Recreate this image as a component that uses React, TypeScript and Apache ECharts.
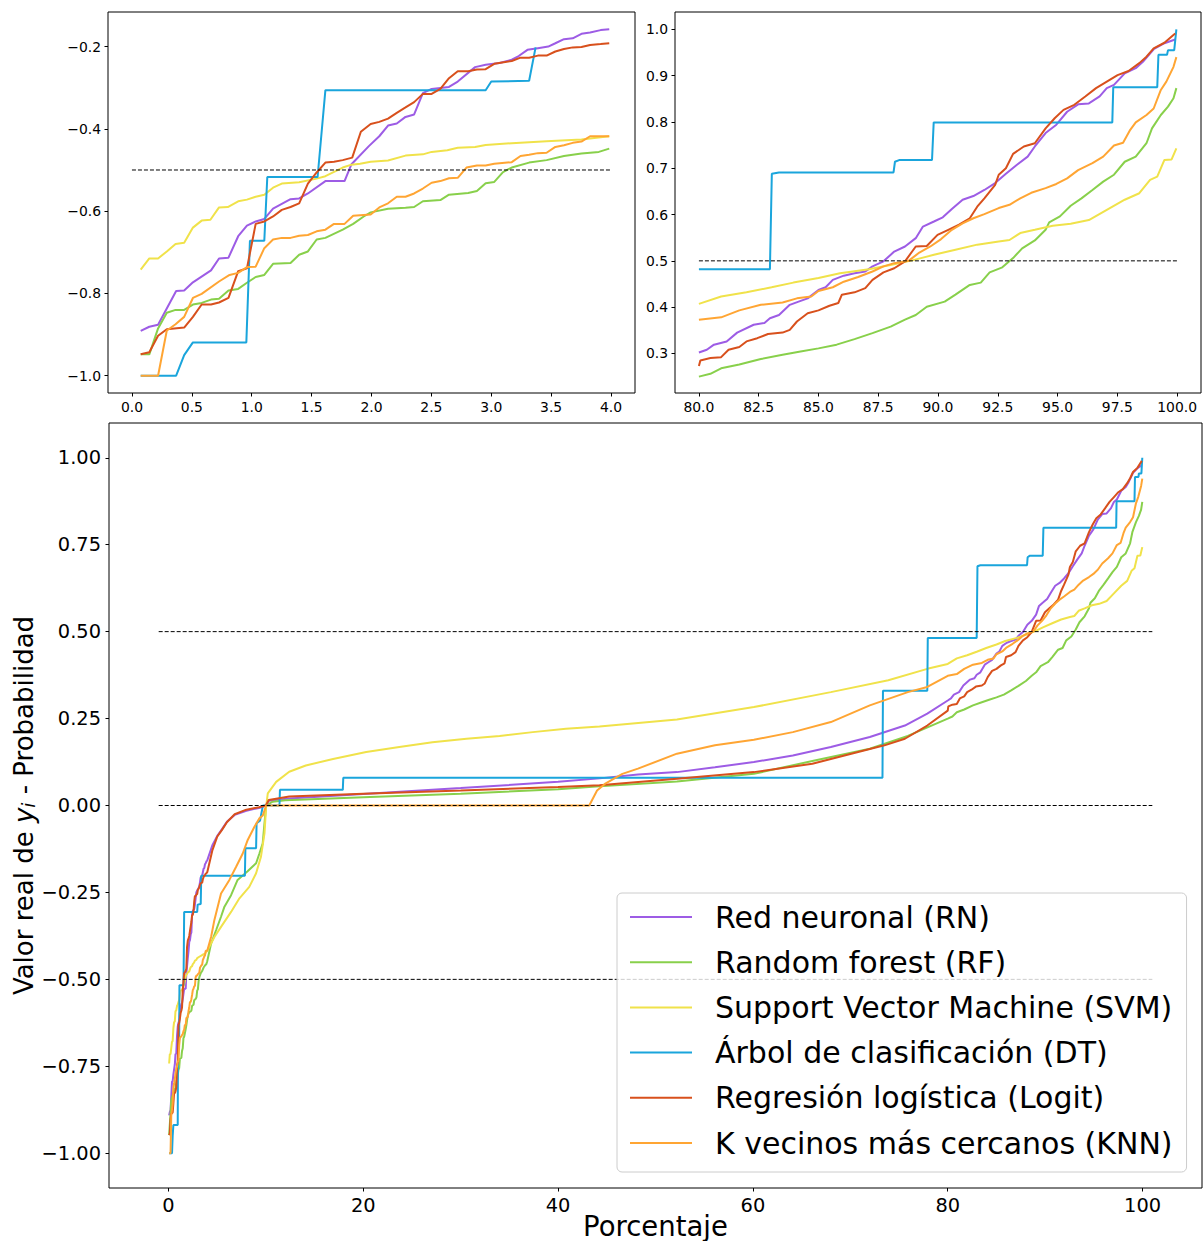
import React, { useEffect, useRef } from 'react';
import * as echarts from 'echarts';

const FONT = 'DejaVu Sans';

const MODEL_NAMES = [
  'Red neuronal (RN)',
  'Random forest (RF)',
  'Support Vector Machine (SVM)',
  'Árbol de clasificación (DT)',
  'Regresión logística (Logit)',
  'K vecinos más cercanos (KNN)',
];
const MODEL_COLORS = ['#9d5ce5', '#88d04b', '#f0e24a', '#1aa5dc', '#d8501c', '#ffa533'];

// [percentile, y_i - probability]
const rnData = [
  [0.073, -0.891], [0.145, -0.881], [0.218, -0.876], [0.369, -0.794], [0.436, -0.793], [0.509, -0.773],
  [0.66, -0.744], [0.727, -0.715], [0.806, -0.713], [0.887, -0.661], [0.96, -0.635], [1.033, -0.625],
  [1.105, -0.619], [1.178, -0.594], [1.324, -0.571], [1.396, -0.569], [1.469, -0.557], [1.615, -0.527],
  [1.775, -0.527], [1.833, -0.486], [1.978, -0.442], [2.065, -0.418], [2.138, -0.392], [2.211, -0.387],
  [2.284, -0.371], [2.356, -0.365], [2.429, -0.313], [2.502, -0.303], [2.647, -0.298], [2.72, -0.285],
  [2.865, -0.25], [2.953, -0.244], [3.069, -0.24], [3.171, -0.232], [3.229, -0.223], [3.302, -0.208],
  [3.389, -0.204], [3.476, -0.2], [3.535, -0.192], [3.607, -0.182], [3.68, -0.18], [3.753, -0.169],
  [3.825, -0.166], [3.913, -0.16], [3.985, -0.158],
  [4.5, -0.115], [5.0, -0.088], [5.5, -0.068], [6.0, -0.047], [6.8, -0.027], [8.0, -0.015], [9.3, -0.007],
  [10.0, 0.0], [10.3, 0.014], [12.4, 0.02], [20, 0.033], [30, 0.05], [40, 0.068], [44.25, 0.078],
  [48.2, 0.089], [52.2, 0.096], [56.1, 0.11], [60.1, 0.125], [64.1, 0.144], [68, 0.168], [72, 0.197],
  [75.6, 0.23], [77.9, 0.264],
  [80, 0.302], [80.33, 0.308], [80.63, 0.319], [81.16, 0.326], [81.6, 0.345], [82.29, 0.362], [82.74, 0.366],
  [82.97, 0.376], [83.35, 0.383], [83.8, 0.405], [84.17, 0.412], [84.55, 0.419], [85.0, 0.437], [85.3, 0.443],
  [85.6, 0.459], [86.06, 0.468], [86.51, 0.473], [86.96, 0.477], [87.26, 0.488], [87.72, 0.499], [88.17, 0.52],
  [88.62, 0.531], [89.07, 0.549], [89.37, 0.574], [89.83, 0.585], [90.2, 0.594], [90.58, 0.612], [91.03, 0.632],
  [91.48, 0.64], [91.94, 0.653], [92.39, 0.668], [92.84, 0.688], [93.29, 0.707], [93.75, 0.725], [94.05, 0.747],
  [94.5, 0.776], [94.95, 0.794], [95.4, 0.822], [95.86, 0.838], [96.31, 0.84], [96.76, 0.855], [97.06, 0.873],
  [97.36, 0.88], [97.81, 0.905], [98.27, 0.916], [98.57, 0.93], [99.02, 0.957], [99.47, 0.97], [99.92, 0.978],
];

const rfData = [
  [0.073, -0.948], [0.145, -0.948], [0.218, -0.885], [0.291, -0.847], [0.364, -0.84], [0.436, -0.84],
  [0.509, -0.827], [0.582, -0.823], [0.66, -0.815], [0.727, -0.813], [0.806, -0.793], [0.887, -0.789],
  [0.96, -0.774], [1.033, -0.76], [1.105, -0.755], [1.178, -0.728], [1.324, -0.726], [1.396, -0.706],
  [1.469, -0.698], [1.542, -0.669], [1.615, -0.665], [1.76, -0.645], [1.847, -0.631], [1.935, -0.613],
  [1.993, -0.603], [2.138, -0.594], [2.284, -0.592], [2.356, -0.59], [2.429, -0.576], [2.575, -0.573],
  [2.647, -0.56], [2.807, -0.556], [2.88, -0.551], [2.953, -0.532], [3.025, -0.529], [3.098, -0.505],
  [3.171, -0.494], [3.316, -0.482], [3.462, -0.476], [3.607, -0.466], [3.753, -0.46], [3.898, -0.456],
  [3.985, -0.448],
  [4.38, -0.397], [4.9, -0.358], [5.4, -0.32], [5.75, -0.291], [6.43, -0.258], [7.1, -0.214], [8.1, -0.19],
  [9.0, -0.166], [9.34, -0.138], [9.68, -0.109], [9.86, -0.051], [10.03, 0.0], [10.7, 0.011], [12, 0.015],
  [20, 0.024], [30, 0.034], [40, 0.047], [44.25, 0.055], [52.2, 0.069], [60.1, 0.091], [66.1, 0.128],
  [72, 0.163], [75.9, 0.2],
  [80, 0.25], [80.48, 0.256], [80.93, 0.268], [81.69, 0.276], [82.59, 0.288], [83.5, 0.297], [84.25, 0.304],
  [85.0, 0.311], [85.76, 0.319], [86.51, 0.331], [87.26, 0.344], [88.02, 0.358], [88.62, 0.373], [89.07, 0.383],
  [89.53, 0.401], [90.28, 0.412], [90.73, 0.427], [91.33, 0.448], [91.79, 0.453], [92.16, 0.475], [92.69, 0.486],
  [93.14, 0.506], [93.52, 0.527], [94.05, 0.544], [94.5, 0.567], [94.65, 0.583], [95.1, 0.596], [95.55, 0.619],
  [96.0, 0.635], [96.46, 0.653], [96.91, 0.671], [97.36, 0.686], [97.81, 0.714], [98.27, 0.725], [98.72, 0.754],
  [98.95, 0.786], [99.32, 0.815], [99.62, 0.833], [99.85, 0.851], [99.97, 0.873],
];

const svmData = [
  [0.073, -0.742], [0.145, -0.715], [0.218, -0.715], [0.291, -0.698], [0.364, -0.68], [0.436, -0.677],
  [0.509, -0.64], [0.582, -0.623], [0.655, -0.621], [0.727, -0.591], [0.8, -0.59], [0.887, -0.576],
  [0.96, -0.572], [1.033, -0.565], [1.105, -0.56], [1.178, -0.543], [1.251, -0.533], [1.396, -0.53],
  [1.542, -0.521], [1.615, -0.515], [1.76, -0.494], [1.833, -0.487], [1.905, -0.485], [1.993, -0.48],
  [2.138, -0.477], [2.284, -0.465], [2.429, -0.462], [2.502, -0.456], [2.633, -0.452], [2.72, -0.446],
  [2.865, -0.444], [2.953, -0.439], [3.171, -0.435], [3.462, -0.43], [3.753, -0.426], [3.985, -0.418],
  [4.72, -0.378], [5.4, -0.349], [6.43, -0.306], [7.29, -0.267], [8.3, -0.234], [9.0, -0.195], [9.5, -0.147],
  [9.86, -0.08], [10.03, -0.003], [10.2, 0.035], [11.06, 0.068], [12.4, 0.097], [14.1, 0.115], [16.9, 0.134],
  [20.3, 0.154], [23.7, 0.168], [27.1, 0.182], [30.6, 0.192], [34, 0.2], [37.4, 0.211], [40.8, 0.221],
  [44.25, 0.227], [52.2, 0.247], [60.1, 0.283], [68, 0.326], [73.9, 0.36], [77.9, 0.393],
  [80, 0.407], [80.93, 0.423], [81.99, 0.432], [83.04, 0.443], [83.95, 0.453], [85.0, 0.463], [85.9, 0.473],
  [87.11, 0.482], [88.02, 0.491], [88.92, 0.501], [89.83, 0.513], [90.73, 0.524], [91.64, 0.535], [92.54, 0.542],
  [92.99, 0.545], [93.44, 0.56], [94.05, 0.567], [94.8, 0.576], [95.55, 0.58], [96.31, 0.588], [97.06, 0.61],
  [97.81, 0.632], [98.42, 0.646], [98.87, 0.675], [99.17, 0.682], [99.47, 0.718], [99.77, 0.719], [99.97, 0.743],
];

const dtData = [
  [0.073, -1.0], [0.369, -1.0], [0.436, -0.95], [0.509, -0.919], [0.955, -0.919], [0.985, -0.672],
  [1.105, -0.672], [1.13, -0.517], [1.55, -0.517], [1.615, -0.306], [2.953, -0.306], [3.0, -0.285],
  [3.316, -0.283], [3.37, -0.202], [7.85, -0.202], [7.9, -0.123], [9.0, -0.123], [9.05, -0.051],
  [9.4, -0.044], [9.7, 0.0], [11.4, 0.0], [11.45, 0.045], [17.9, 0.045], [17.95, 0.08], [73.3, 0.08],
  [73.35, 0.33], [77.9, 0.33], [77.95, 0.482], [80, 0.482], [82.97, 0.482], [83.05, 0.688], [83.35, 0.691],
  [88.14, 0.691], [88.2, 0.714], [88.4, 0.718], [89.75, 0.718], [89.82, 0.799], [97.29, 0.799],
  [97.33, 0.875], [99.17, 0.875], [99.22, 0.945], [99.58, 0.945], [99.62, 0.955], [99.88, 0.955], [99.97, 1.0],
];

const logitData = [
  [0.073, -0.948], [0.145, -0.943], [0.218, -0.903], [0.291, -0.887], [0.436, -0.883], [0.509, -0.857],
  [0.582, -0.827], [0.66, -0.827], [0.727, -0.822], [0.806, -0.811], [0.887, -0.746], [0.96, -0.739],
  [1.033, -0.631], [1.105, -0.625], [1.178, -0.613], [1.251, -0.597], [1.324, -0.59], [1.396, -0.581],
  [1.469, -0.533], [1.542, -0.506], [1.615, -0.482], [1.687, -0.48], [1.76, -0.476], [1.839, -0.47],
  [1.911, -0.407], [1.993, -0.388], [2.065, -0.383], [2.138, -0.375], [2.211, -0.361], [2.284, -0.348],
  [2.356, -0.335], [2.429, -0.315], [2.502, -0.315], [2.575, -0.303], [2.647, -0.277], [2.72, -0.26],
  [2.807, -0.26], [2.88, -0.256], [2.953, -0.255], [3.025, -0.242], [3.171, -0.235], [3.244, -0.227],
  [3.316, -0.227], [3.389, -0.222], [3.462, -0.222], [3.535, -0.212], [3.607, -0.206], [3.68, -0.202],
  [3.753, -0.201], [3.825, -0.196], [3.913, -0.194], [3.985, -0.192],
  [4.5, -0.13], [5.0, -0.09], [5.5, -0.07], [6.0, -0.048], [6.8, -0.025], [8.0, -0.012], [9.3, -0.005],
  [10.0, 0.0], [10.3, 0.016], [12.4, 0.026], [20, 0.034], [30, 0.043], [40, 0.053], [44.25, 0.058],
  [52.2, 0.077], [60.1, 0.096], [66.1, 0.12], [70.1, 0.149], [73.5, 0.173], [75.6, 0.192], [77.9, 0.23],
  [80, 0.273], [80.06, 0.285], [80.48, 0.29], [80.93, 0.292], [81.24, 0.308], [81.69, 0.314], [81.99, 0.326],
  [82.44, 0.333], [82.89, 0.342], [83.5, 0.345], [83.8, 0.351], [84.1, 0.369], [84.55, 0.387], [85.0, 0.393],
  [85.46, 0.403], [85.83, 0.409], [85.98, 0.427], [86.51, 0.432], [86.96, 0.441], [87.26, 0.459], [87.72, 0.475],
  [88.17, 0.484], [88.62, 0.499], [89.07, 0.531], [89.53, 0.532], [89.98, 0.556], [90.43, 0.567], [90.88, 0.578],
  [91.33, 0.592], [91.64, 0.617], [91.94, 0.635], [92.39, 0.664], [92.54, 0.686], [92.84, 0.7], [93.14, 0.731],
  [93.59, 0.747], [94.05, 0.754], [94.5, 0.786], [94.88, 0.808], [95.25, 0.826], [95.7, 0.837], [96.16, 0.855],
  [96.61, 0.873], [97.06, 0.887], [97.51, 0.901], [97.97, 0.91], [98.42, 0.927], [98.72, 0.941], [99.02, 0.959],
  [99.47, 0.971], [99.92, 0.991],
];

const knnData = [
  [0.073, -1.0], [0.218, -1.0], [0.291, -0.89], [0.364, -0.875], [0.436, -0.857], [0.509, -0.811],
  [0.582, -0.801], [0.727, -0.771], [0.815, -0.755], [0.887, -0.75], [0.96, -0.736], [1.033, -0.735],
  [1.105, -0.69], [1.178, -0.669], [1.251, -0.665], [1.324, -0.665], [1.396, -0.66], [1.469, -0.658],
  [1.542, -0.649], [1.615, -0.645], [1.687, -0.631], [1.775, -0.631], [1.847, -0.611], [1.993, -0.608],
  [2.065, -0.591], [2.138, -0.581], [2.211, -0.565], [2.284, -0.565], [2.356, -0.557], [2.429, -0.545],
  [2.502, -0.531], [2.575, -0.527], [2.647, -0.52], [2.72, -0.519], [2.793, -0.494], [2.88, -0.489],
  [2.953, -0.489], [3.025, -0.485], [3.171, -0.481], [3.244, -0.466], [3.316, -0.463], [3.389, -0.459],
  [3.462, -0.458], [3.535, -0.444], [3.607, -0.44], [3.68, -0.434], [3.753, -0.431], [3.825, -0.418],
  [3.985, -0.418],
  [4.38, -0.378], [4.72, -0.329], [5.06, -0.291], [5.4, -0.253], [6.26, -0.214], [6.95, -0.176], [7.63, -0.138],
  [8.14, -0.099], [8.83, -0.061], [9.34, -0.037], [9.68, -0.029], [10.03, 0.0], [43.2, 0.0], [44.0, 0.043],
  [44.8, 0.062], [46.6, 0.091], [48.2, 0.106], [52.2, 0.149], [56.1, 0.173], [60.1, 0.189], [64.1, 0.211],
  [68, 0.24], [72, 0.288], [75.9, 0.326], [77.9, 0.341],
  [80, 0.373], [80.93, 0.378], [81.69, 0.393], [82.59, 0.405], [83.5, 0.41], [84.1, 0.419], [84.7, 0.423],
  [85.0, 0.435], [85.6, 0.443], [86.06, 0.455], [86.66, 0.465], [87.26, 0.477], [87.72, 0.488], [88.17, 0.495],
  [88.77, 0.5], [89.22, 0.518], [89.68, 0.531], [90.13, 0.547], [90.58, 0.567], [91.03, 0.581], [91.48, 0.592],
  [91.94, 0.601], [92.54, 0.614], [92.99, 0.621], [93.44, 0.635], [93.9, 0.647], [94.5, 0.657], [94.95, 0.666],
  [95.4, 0.678], [95.86, 0.696], [96.46, 0.711], [96.91, 0.725], [97.36, 0.749], [97.74, 0.755], [98.04, 0.783],
  [98.27, 0.799], [98.72, 0.815], [99.02, 0.829], [99.32, 0.869], [99.55, 0.887], [99.85, 0.919], [99.97, 0.94],
];

const MODEL_DATA = [rnData, rfData, svmData, dtData, logitData, knnData];

// percentile window shown in each panel: [from, to]
const PANEL_WINDOWS = [[0, 4], [80, 100], [0, 100]];

// reference (dashed) lines per panel: [xStart, xEnd, y]
const REF_TOP_LEFT = [[0, 4, -0.5]];
const REF_TOP_RIGHT = [[80, 100, 0.5]];
const REF_BOTTOM = [[-1, 101, 0.5], [-1, 101, 0.0], [-1, 101, -0.5]];

// tick values
const TL_X_TICKS = [0, 0.5, 1, 1.5, 2, 2.5, 3, 3.5, 4];
const TL_Y_TICKS = [-1.0, -0.8, -0.6, -0.4, -0.2];
const TR_X_TICKS = [80, 82.5, 85, 87.5, 90, 92.5, 95, 97.5, 100];
const TR_Y_TICKS = [0.3, 0.4, 0.5, 0.6, 0.7, 0.8, 0.9, 1.0];
const B_X_TICKS = [0, 20, 40, 60, 80, 100];
const B_Y_TICKS = [-1.0, -0.75, -0.5, -0.25, 0, 0.25, 0.5, 0.75, 1.0];

const fmt = (d: number) => (v: number) => {
  const s = Math.abs(v).toFixed(d);
  return (v < -1e-9 ? '\u2212' : '') + s;
};

function makeAxis(gridIndex: number, min: number, max: number, ticks: number[], decimals: number, fontSize: number, margin: number, extra: any = {}) {
  return {
    type: 'value',
    gridIndex,
    min,
    max,
    axisLine: { show: false, onZero: false },
    splitLine: { show: false },
    axisTick: { show: true, length: 3.5, lineStyle: { color: '#000', width: 1 }, customValues: ticks },
    axisLabel: {
      customValues: ticks,
      formatter: fmt(decimals),
      color: '#000',
      fontFamily: FONT,
      fontSize,
      margin,
    },
    ...extra,
  };
}

export default function App() {
  const ref = useRef<HTMLDivElement>(null);

  useEffect(() => {
    const chart = echarts.init(ref.current!, null, { renderer: 'svg' });

    const grids = [
      { left: 108, top: 12, width: 527, height: 381 },
      { left: 675, top: 12, width: 526, height: 381 },
      { left: 109, top: 423, width: 1093, height: 765 },
    ].map((g) => ({
      ...g,
      show: true,
      borderColor: '#000',
      borderWidth: 1,
      backgroundColor: 'transparent',
      containLabel: false,
      outerBoundsMode: 'none',
    }));

    const xAxes = [
      makeAxis(0, -0.2, 4.2, TL_X_TICKS, 1, 13.9, 7),
      makeAxis(1, 79, 101, TR_X_TICKS, 1, 13.9, 7),
      makeAxis(2, -6.1, 106.1, B_X_TICKS, 0, 19.4, 8, {
        name: 'Porcentaje',
        nameLocation: 'middle',
        nameMoveOverlap: false,
        nameGap: 24,
        nameTextStyle: { fontFamily: FONT, fontSize: 27.5, color: '#000' },
      }),
    ];
    const yAxes = [
      makeAxis(0, -1.042, -0.116, TL_Y_TICKS, 1, 13.9, 7),
      makeAxis(1, 0.2146, 1.0374, TR_Y_TICKS, 1, 13.9, 7),
      makeAxis(2, -1.1, 1.1, B_Y_TICKS, 2, 19.4, 8, {
        name: '{a|Valor real de }{b|y}{c|i}{a| - Probabilidad}',
        nameLocation: 'middle',
        nameRotate: 90,
        nameMoveOverlap: false,
        nameGap: 72,
        nameTextStyle: {
          fontFamily: FONT,
          fontSize: 26,
          color: '#000',
          rich: {
            a: { fontFamily: FONT, fontSize: 26, color: '#000' },
            b: { fontFamily: FONT, fontSize: 26, fontStyle: 'italic', color: '#000' },
            c: { fontFamily: FONT, fontSize: 18, fontStyle: 'italic', color: '#000', verticalAlign: 'bottom', lineHeight: 22 },
          },
        },
      }),
    ];

    const series: any[] = [];
    for (let g = 0; g < 3; g++) {
      const [lo, hi] = PANEL_WINDOWS[g];
      MODEL_NAMES.forEach((name, i) => {
        series.push({
          type: 'line',
          name,
          xAxisIndex: g,
          yAxisIndex: g,
          data: MODEL_DATA[i].filter((p) => p[0] >= lo && p[0] <= hi),
          symbol: 'none',
          showSymbol: false,
          clip: true,
          color: MODEL_COLORS[i],
          itemStyle: { color: MODEL_COLORS[i] },
          lineStyle: { width: 2, color: MODEL_COLORS[i] },
          emphasis: { disabled: true },
          z: 3,
        });
      });
    }
    const refSets = [REF_TOP_LEFT, REF_TOP_RIGHT, REF_BOTTOM];
    refSets.forEach((set, g) => {
      set.forEach(([x0, x1, y]) => {
        series.push({
          type: 'line',
          name: '__ref',
          xAxisIndex: g,
          yAxisIndex: g,
          data: [[x0, y], [x1, y]],
          symbol: 'none',
          silent: true,
          lineStyle: { width: 1, color: '#000', type: [4, 2] },
          emphasis: { disabled: true },
          z: 4,
        });
      });
    });

    chart.setOption({
      animation: false,
      backgroundColor: '#ffffff',
      textStyle: { fontFamily: FONT },
      grid: grids,
      xAxis: xAxes,
      yAxis: yAxes,
      legend: {
        data: MODEL_NAMES,
        orient: 'vertical',
        left: 617,
        top: 893,
        icon: 'rect',
        itemWidth: 62,
        itemHeight: 2,
        itemGap: 15.2,
        padding: [9, 14, 14, 13],
        backgroundColor: 'rgba(255,255,255,0.8)',
        borderColor: '#cccccc',
        borderWidth: 1,
        borderRadius: 5,
        selectedMode: false,
        textStyle: { fontFamily: FONT, fontSize: 30, color: '#000', lineHeight: 30, padding: [0, 0, 0, 18] },
        z: 10,
      },
      series,
    });

    return () => chart.dispose();
  }, []);

  return <div ref={ref} style={{ position: 'absolute', left: 0, top: 0, width: 1204, height: 1241 }} />;
}
